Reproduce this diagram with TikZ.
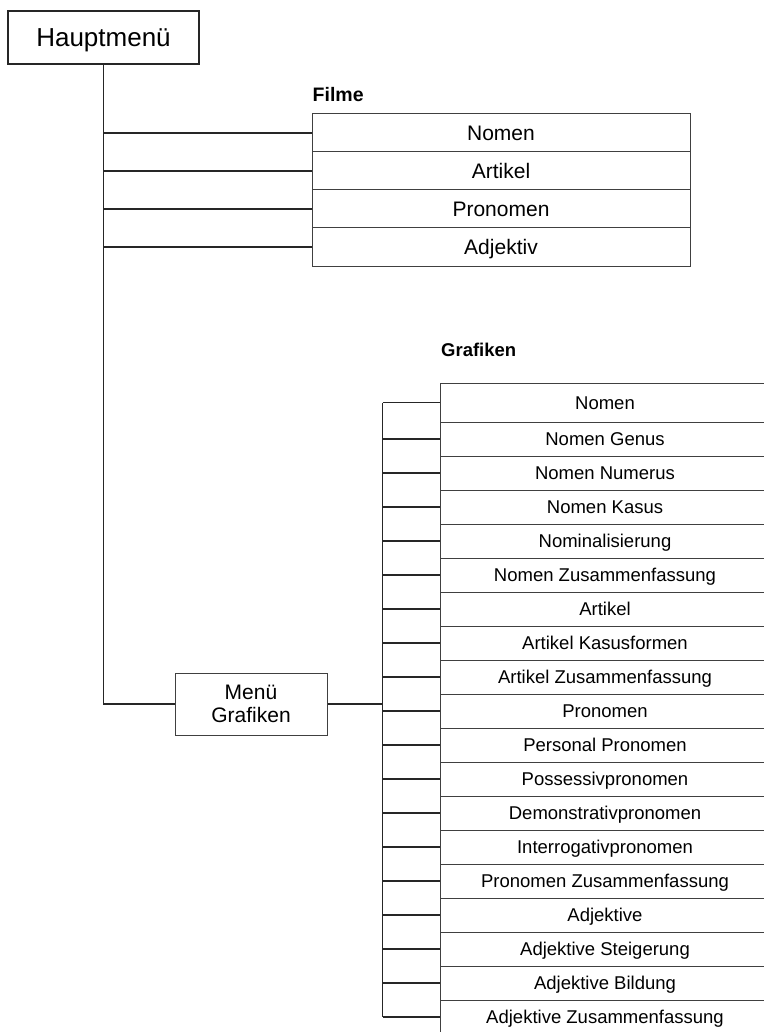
\documentclass[tikz,border=0pt]{standalone}
\usepackage{fontspec}
\setmainfont{Liberation Sans}
\begin{document}
\begin{tikzpicture}[x=1pt,y=-1pt,
  box/.style={draw=black!75, line width=1pt, inner sep=0pt, align=center},
  conn/.style={draw=black!85, line width=1.1pt},
  filmitem/.style={box, minimum width=378pt, minimum height=38pt, font=\fontsize{21}{25}\selectfont, text height=15pt, text depth=0pt},
  grafitem/.style={box, minimum width=330pt, minimum height=34pt, font=\fontsize{18.5}{22}\selectfont, text height=13.3pt, text depth=0pt},
  heading/.style={anchor=base west, inner sep=0pt, font=\bfseries\fontsize{19.5}{23}\selectfont}]
\useasboundingbox[fill=white] (0,0) rectangle (763,1032);

% main menu
\node[box, draw=black!85, line width=1.3pt, minimum width=191pt, minimum height=53pt,
      font=\fontsize{26}{30}\selectfont, text height=18.6pt, text depth=0pt] (hm) at (103.5,37.5) {Hauptmenü};

% Filme
\node[heading] (filme) at (312.5,102) {Filme};
\foreach \t [count=\i] in {Nomen, Artikel, Pronomen, Adjektiv}{
  \node[filmitem] (f\i) at (501,{133+38*(\i-1)}) {\t};
  \draw[conn] (f\i.west) -- (f\i.west -| hm.south);
}

% Menü Grafiken
\node[box, minimum width=152pt, minimum height=62pt, font=\fontsize{21}{23}\selectfont] (mg) at (251,704) {Menü\\Grafiken};
\draw[conn] (hm.south) |- (mg.west);

% Grafiken list
\node[heading, font=\bfseries\fontsize{18.5}{22}\selectfont] (graf) at (441,356) {Grafiken};
\node[grafitem, minimum height=39pt] (g1) at (605,402.5) {Nomen};
\foreach \t [count=\i from 2] in {Nomen Genus, Nomen Numerus, Nomen Kasus, Nominalisierung,
  Nomen Zusammenfassung, Artikel, Artikel Kasusformen, Artikel Zusammenfassung, Pronomen,
  Personal Pronomen, Possessivpronomen, Demonstrativpronomen, Interrogativpronomen,
  Pronomen Zusammenfassung, Adjektive, Adjektive Steigerung, Adjektive Bildung,
  Adjektive Zusammenfassung}{
  \node[grafitem] (g\i) at (605,{439+34*(\i-2)}) {\t};
}
\path (g1.west) ++(-57,0) coordinate (bt);
\path (g19.west) ++(-57,0) coordinate (bb);
\foreach \i in {1,...,19}{
  \draw[conn] (g\i.west) -- (g\i.west -| bt);
}
\draw[draw=black!85, line width=1.8pt] (bt) -- (bb);
\draw[draw=black!85, line width=2.6pt] (mg.east) -- (mg.east -| bt);
\end{tikzpicture}
\end{document}
